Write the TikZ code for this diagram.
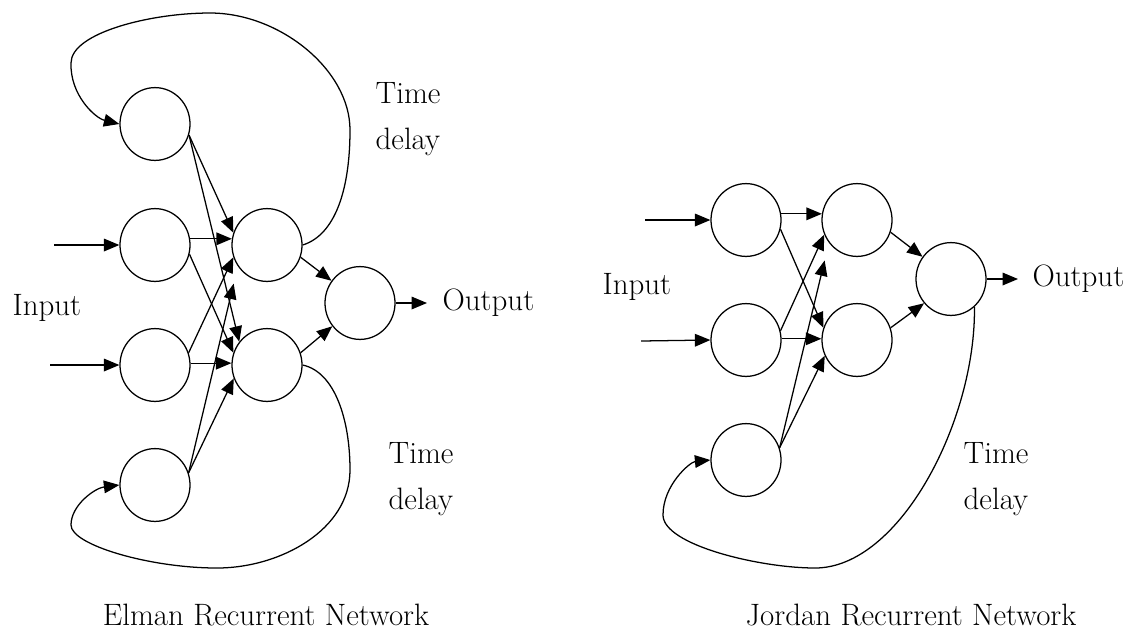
\documentclass[tikz,border=0pt]{standalone}
\usepackage{tikz}
\usetikzlibrary{arrows.meta}
\usetikzlibrary{shapes.geometric}

\begin{document}
\begin{tikzpicture}[x=0.025cm,y=-0.025cm,line width=0.9pt,
	>/.tip={Triangle[length=11pt,width=9pt]},
	neuron/.style={draw,shape=ellipse,minimum width=1.75cm,minimum height=1.82cm,inner sep=0pt},
	txt/.style={inner sep=0pt,font=\fontsize{22}{33}\selectfont}]
	\useasboundingbox (0,0) rectangle (1135,634);

	\draw (155,124) node (ectxa) [neuron] {};
	\draw (155,245) node (eina) [neuron] {};
	\draw (155,365) node (einb) [neuron] {};
	\draw (155,485) node (ectxb) [neuron] {};
	\draw (267,245) node (ehida) [neuron] {};
	\draw (267,365) node (ehidb) [neuron] {};
	\draw (360,303) node (eout) [neuron] {};
	\node (einlbl) [txt,anchor=west] at (12,308) {Input};
	\node (eoutlbl) [txt,anchor=west] at (442,303) {Output};
	\node (edelaya) [txt,anchor=west,align=left] at (375,119) {Time\\delay};
	\node (edelayb) [txt,anchor=west,align=left] at (388,479) {Time\\delay};
	\node (ecap) [txt] at (266,615) {Elman Recurrent Network};
	\coordinate (eina0) at (54,245);
	\coordinate (einb0) at (50,365);
	\coordinate (eout1) at (427,303);

	\draw[->] (eina0) -- (eina.west);
	\draw[->] (einb0) -- (einb.west);
	\draw[->] (ectxa.-18) -- (ehida.160);
	\draw[->] (ectxa.-18) -- (ehidb.140);
	\draw[->] (eina.10) -- (ehida.170);
	\draw[->] (eina.-15) -- (ehidb.160);
	\draw[->] (einb.20) -- (ehida.200);
	\draw[->] (einb.3) -- (ehidb.177);
	\draw[->,shorten >=12.7pt] (ectxb.20) -- (ehida.216);
	\draw[->] (ectxb.20) -- (ehidb.202);
	\draw[->] (ehida.-20) -- (eout.142);
	\draw[->] (ehidb.20) -- (eout.220);
	\draw[->] (eout.east) -- (eout1);
	\draw[->] (ehida.east) .. controls (335,235) and (350,190) .. (350,130)
		.. controls (350,70) and (280,13) .. (210,13)
		.. controls (150,13) and (71,33) .. (71,63)
		.. controls (70,95) and (95,118) .. (ectxa.west);
	\draw[->] (ehidb.east) .. controls (335,372) and (350,420) .. (350,470)
		.. controls (350,530) and (280,568) .. (217,568)
		.. controls (150,568) and (71,545) .. (71,525)
		.. controls (71,505) and (95,488) .. (ectxb.west);

	\draw (746,220) node (jina) [neuron] {};
	\draw (746,340) node (jinb) [neuron] {};
	\draw (746,460) node (jctx) [neuron] {};
	\draw (857,220) node (jhida) [neuron] {};
	\draw (857,340) node (jhidb) [neuron] {};
	\draw (951,279) node (jout) [neuron] {};
	\node (jinlbl) [txt,anchor=west] at (602,287) {Input};
	\node (joutlbl) [txt,anchor=west] at (1032,279) {Output};
	\node (jdelay) [txt,anchor=west,align=left] at (963,479) {Time\\delay};
	\node (jcap) [txt] at (911,615) {Jordan Recurrent Network};
	\coordinate (jina0) at (645,220);
	\coordinate (jinb0) at (641,341);
	\coordinate (jout1) at (1018,279);

	\draw[->] (jina0) -- (jina.west);
	\draw[->] (jinb0) -- (jinb.west);
	\draw[->] (jina.10) -- (jhida.170);
	\draw[->] (jina.-15) -- (jhidb.160);
	\draw[->] (jinb.15) -- (jhida.204);
	\draw[->] (jinb.2) -- (jhidb.178);
	\draw[->,shorten >=12.9pt] (jctx.20) -- (jhida.219);
	\draw[->] (jctx.20) -- (jhidb.206);
	\draw[->] (jhida.-20) -- (jout.142);
	\draw[->] (jhidb.20) -- (jout.222);
	\draw[->] (jout.east) -- (jout1);
	\draw[->] (jout.-50) .. controls (976,420) and (900,568) .. (815,568)
		.. controls (760,568) and (663,545) .. (663,515)
		.. controls (663,485) and (690,462) .. (jctx.west);
\end{tikzpicture}
\end{document}
